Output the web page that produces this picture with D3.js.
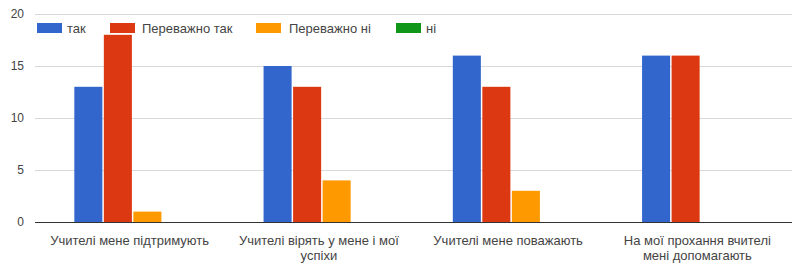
<!DOCTYPE html>
<html><head><meta charset="utf-8">
<script src="https://cdn.jsdelivr.net/npm/d3@7"></script>
<style>body{margin:0;background:#fff}svg{display:block;font-family:Arial,"Liberation Sans",sans-serif}</style>
</head><body>
<svg id="c" width="792" height="264"></svg>
<script>
const categories = [
  ["Учителі мене підтримують"],
  ["Учителі вірять у мене і мої", "успіхи"],
  ["Учителі мене поважають"],
  ["На мої прохання вчителі", "мені допомагають"]
];
const seriesNames = ["так", "Переважно так", "Переважно ні", "ні"];
const seriesColors = ["#3366cc", "#dc3912", "#ff9900", "#109618"];
const valuesTak = [13, 15, 16, 16];
const valuesMostlyYes = [18, 13, 13, 16];
const valuesMostlyNo = [1, 4, 3, 0];
const valuesNo = [0, 0, 0, 0];
const yTicks = [0, 5, 10, 15, 20];

const series = [valuesTak, valuesMostlyYes, valuesMostlyNo, valuesNo];
const svg = d3.select("#c");
const mLeft = 38, mRight = 795, gridLeft = 35, gridRight = 792, mTop = 14, mBottom = 222;

const x0 = d3.scaleBand().domain(d3.range(categories.length)).range([mLeft, mRight]).paddingInner(0).paddingOuter(0);
const x1 = d3.scaleBand().domain(d3.range(series.length)).range([0, x0.bandwidth()]).paddingOuter(1.23).paddingInner(0.05);
const y = d3.scaleLinear().domain([0, 20]).range([mBottom, mTop]);

// gridlines
svg.append("g").selectAll("line").data(yTicks.filter(d => d > 0)).join("line")
  .attr("x1", gridLeft).attr("x2", gridRight)
  .attr("y1", d => y(d) + 0.5).attr("y2", d => y(d) + 0.5)
  .attr("stroke", "#d9d9d9").attr("stroke-width", 1);

// y axis labels
const yAxis = d3.axisLeft(y).tickValues(yTicks).tickSize(0).tickPadding(0);
const ya = svg.append("g").attr("transform", `translate(${mLeft - 14},0)`).call(yAxis);
ya.select(".domain").remove();
ya.selectAll("text").attr("fill", "#444").attr("font-size", 12).attr("font-family", "Arial, 'Liberation Sans', sans-serif");

// bars
const groups = svg.append("g").selectAll("g").data(categories).join("g")
  .attr("transform", (d, i) => `translate(${x0(i)},0)`);
groups.selectAll("rect").data((d, i) => series.map((s, k) => ({k, v: s[i]}))).join("rect")
  .attr("x", d => x1(d.k)).attr("width", x1.bandwidth())
  .attr("y", d => y(d.v)).attr("height", d => y(0) - y(d.v))
  .attr("fill", d => seriesColors[d.k]);

// baseline
svg.append("line").attr("x1", gridLeft).attr("x2", gridRight)
  .attr("y1", y(0) + 0.5).attr("y2", y(0) + 0.5)
  .attr("stroke", "#333").attr("stroke-width", 1);

// x labels
const xl = svg.append("g").selectAll("text").data(categories).join("text")
  .attr("x", (d, i) => x0(i) + x0.bandwidth() / 2 - 3)
  .attr("y", 245)
  .attr("text-anchor", "middle").attr("font-size", 13).attr("fill", "#444");
xl.selectAll("tspan").data(d => d).join("tspan")
  .attr("x", function() { return this.parentNode.getAttribute("x"); })
  .attr("dy", (d, i) => i === 0 ? 0 : 15)
  .text(d => d);

// legend
const legendX = [37, 110, 256, 396];
const legendTextDx = [30, 32, 33, 30];
const lg = svg.append("g").selectAll("g").data(seriesNames).join("g")
  .attr("transform", (d, i) => `translate(${legendX[i]},23)`);
lg.append("rect").attr("width", 25).attr("height", 10).attr("fill", (d, i) => seriesColors[i]);
lg.append("text").attr("x", (d, i) => legendTextDx[i]).attr("y", 10).attr("font-size", 13).attr("fill", "#444").text(d => d);
</script>
</body></html>
